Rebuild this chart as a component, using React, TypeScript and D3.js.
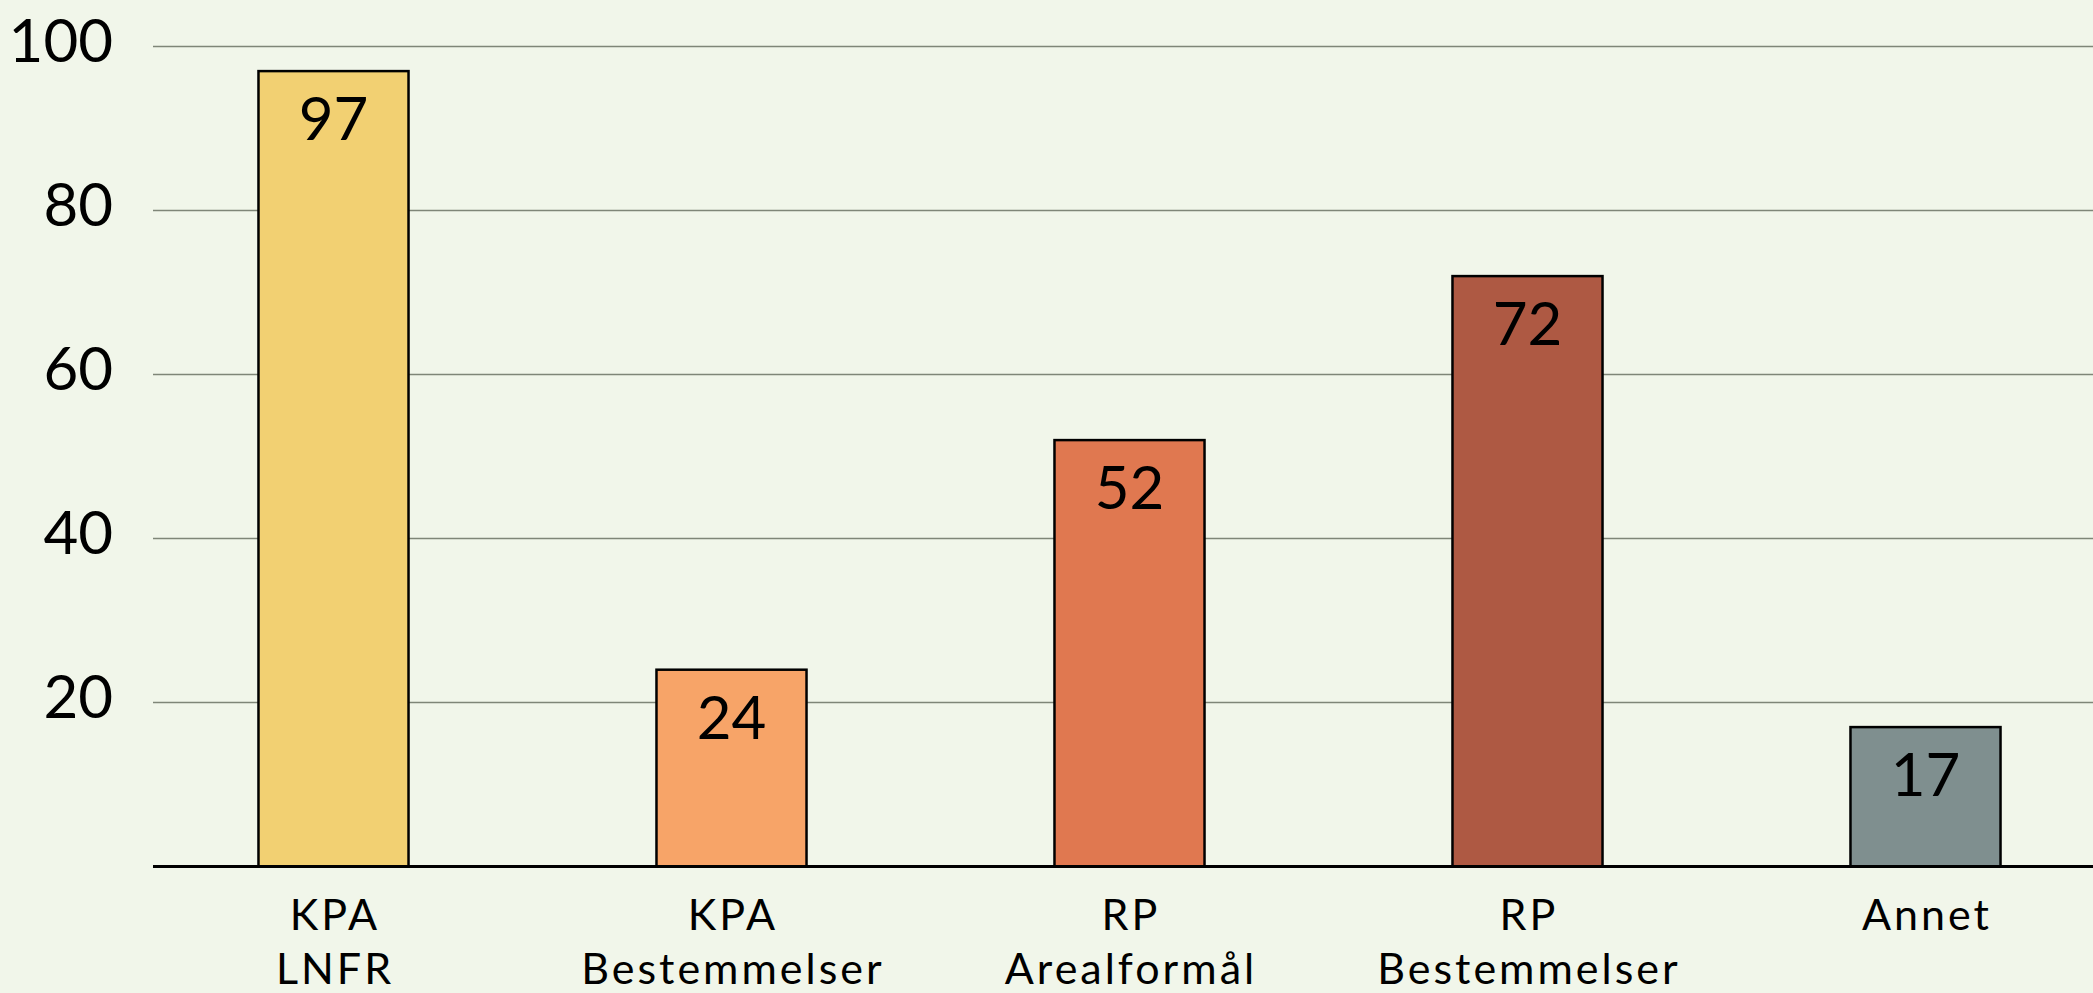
import React, { useEffect } from "react";
import * as d3 from "d3";

const categories: string[][] = [
  ["KPA", "LNFR"],
  ["KPA", "Bestemmelser"],
  ["RP", "Arealformål"],
  ["RP", "Bestemmelser"],
  ["Annet"],
];
const values: number[] = [97, 24, 52, 72, 17];
const barColors: string[] = ["#F2D072", "#F7A468", "#E07850", "#AE5943", "#7F8F8F"];
const yTicks: number[] = [20, 40, 60, 80, 100];

const W = 2093;
const H = 993;
const FONT = "Lato, 'Noto Sans', sans-serif";

export default function App() {
  useEffect(() => {
    document.body.style.margin = "0";
    document.body.style.overflow = "hidden";
  }, []);

  const keys = categories.map((c) => c.join(" "));
  const x = d3
    .scaleBand<string>()
    .domain(keys)
    .range([134.5, 2124.5])
    .paddingInner(0.623)
    .paddingOuter(0.3115);
  const y = d3.scaleLinear().domain([0, 100]).range([866.5, 46.5]);
  const gridX0 = 153;

  return (
    <svg width={W} height={H} style={{ position: "fixed", left: 0, top: 0, background: "#F1F6EA" }}>
      <rect x={0} y={0} width={W} height={H} fill="#F1F6EA" />
      {yTicks.map((t) => (
        <g key={t}>
          <line x1={gridX0} x2={W} y1={y(t)} y2={y(t)} stroke="#7F8678" strokeWidth={1.6} />
          <text
            x={113}
            y={y(t) + 15}
            textAnchor="end"
            fontFamily={FONT}
            fontSize={60}
            fill="#000"
          >
            {t}
          </text>
        </g>
      ))}
      {values.map((v, i) => {
        const bx = x(keys[i])!;
        const bw = x.bandwidth();
        return (
          <g key={keys[i]}>
            <rect
              x={bx}
              y={y(v)}
              width={bw}
              height={y(0) - y(v)}
              fill={barColors[i]}
              stroke="#000"
              strokeWidth={2.5}
            />
            <text
              x={bx + bw / 2}
              y={y(v) + 69}
              textAnchor="middle"
              fontFamily={FONT}
              fontSize={60}
              fill="#000"
            >
              {v}
            </text>
            {categories[i].map((line, j) => (
              <text
                key={j}
                x={bx + bw / 2 + 1.5}
                y={930 + j * 54}
                textAnchor="middle"
                fontFamily={FONT}
                fontSize={43}
                letterSpacing={3}
                fill="#000"
              >
                {line}
              </text>
            ))}
          </g>
        );
      })}
      <line x1={gridX0} x2={W} y1={y(0)} y2={y(0)} stroke="#000" strokeWidth={3} />
    </svg>
  );
}
